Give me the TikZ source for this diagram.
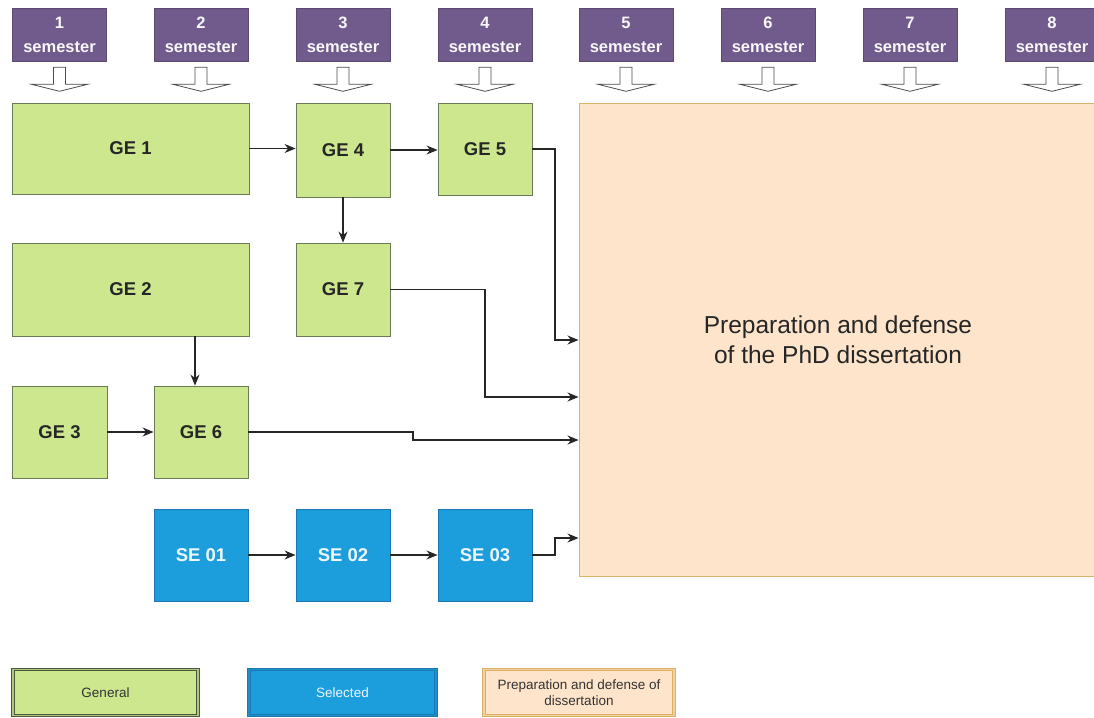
\documentclass[tikz,border=0pt]{standalone}
\usepackage{fontspec}
\setmainfont{Liberation Sans}
\usetikzlibrary{arrows.meta}
\definecolor{gefill}{HTML}{CDE78F}
\definecolor{gedraw}{HTML}{6A7C55}
\definecolor{sefill}{HTML}{1C9EDD}
\definecolor{sedraw}{HTML}{1B78B4}
\definecolor{semfill}{HTML}{705B8C}
\definecolor{prfill}{HTML}{FDE4CB}
\definecolor{prdraw}{HTML}{D9B56C}
\tikzset{
  gebox/.style={draw=gedraw, fill=gefill, line width=0.9pt, inner sep=0pt,
    font=\fontsize{18.5}{20}\selectfont\bfseries, text=black!85},
  sebox/.style={draw=sedraw, fill=sefill, line width=0.9pt, inner sep=0pt,
    minimum width=94pt, minimum height=92pt,
    font=\fontsize{18.5}{20}\selectfont\bfseries, text=white!92!sefill},
  sembox/.style={draw=semfill!80!black, fill=semfill, line width=0.6pt, inner sep=0pt,
    minimum width=94pt, minimum height=53pt, align=center,
    font=\fontsize{16.5}{24}\selectfont\bfseries, text=white!95!semfill},
  hollow/.style={draw=black!70, fill=white, line width=0.8pt},
  conn/.style={draw=black!85, line width=1.1pt, -{Stealth[length=11pt,width=9pt]}},
  legbox/.style={inner sep=0pt, minimum height=46pt, align=center, line width=1pt,
    double distance=1.2pt}
}
\begin{document}
\begin{tikzpicture}[x=1pt,y=-1pt]
\useasboundingbox (0,0) rectangle (1094,717);
% semester headers
\foreach \i/\x in {1/59.5,2/201,3/343,4/485,5/626,6/768,7/910,8/1052}{
  \node[sembox] (sem\i) at (\x,34.5) {\i\\semester};
  \draw[hollow] ([xshift=-6pt,yshift=-6pt]sem\i.south) -- ++(0,17) -- ++(-22,0)
     -- ([yshift=-30pt]sem\i.south) -- ++(28,-7) -- ++(-22,0) -- ++(0,-17) -- cycle;
}
% big box
\node[draw=prdraw, fill=prfill, line width=1pt, minimum width=521pt, minimum height=473pt,
  inner sep=0pt] (prep) at (839.5,339.5) {};
\node[align=center, font=\fontsize{24.5}{30}\selectfont, text=black!85] (preptext) at (838,340)
  {Preparation and defense\\of the PhD dissertation};
% general
\node[gebox, minimum width=237pt, minimum height=91pt] (ge1) at (130.5,148.5) {GE 1};
\node[gebox, minimum width=94pt, minimum height=94pt] (ge4) at (343,150) {GE 4};
\node[gebox, minimum width=94pt, minimum height=92pt] (ge5) at (485,149) {GE 5};
\node[gebox, minimum width=237pt, minimum height=93pt] (ge2) at (130.5,289.5) {GE 2};
\node[gebox, minimum width=94pt, minimum height=93pt] (ge7) at (343,289.5) {GE 7};
\node[gebox, minimum width=95pt, minimum height=92pt] (ge3) at (59.5,432) {GE 3};
\node[gebox, minimum width=94pt, minimum height=92pt] (ge6) at (201,432) {GE 6};
% selected
\node[sebox] (se1) at (201,555) {SE 01};
\node[sebox] (se2) at (343,555) {SE 02};
\node[sebox] (se3) at (485,555) {SE 03};
% helper coordinates
\coordinate (j5) at (555,340);
\coordinate (j7) at (485,397);
\coordinate (j6) at (413,440);
\coordinate (js) at (555,538);
\coordinate (g2x) at (195,0);
% connectors
\draw[conn] (ge1.east) -- (ge4.west |- ge1.east);
\draw[conn] (ge4.east) -- (ge5.west |- ge4.east);
\draw[conn] (ge4.south) -- (ge7.north);
\draw[conn] (ge5.east) -| (j5) -- (j5 -| prep.west);
\draw[conn] (ge7.east) -| (j7) -- (j7 -| prep.west);
\draw[conn] (ge6.east) -| (j6) -- (j6 -| prep.west);
\draw[conn] (ge2.south -| g2x) -- (ge6.north -| g2x);
\draw[conn] (ge3.east) -- (ge6.west);
\draw[conn] (se1.east) -- (se2.west);
\draw[conn] (se2.east) -- (se3.west);
\draw[conn] (se3.east) -| (js) -- (js -| prep.west);
% legend
\node[legbox, draw=gedraw!70!black, double=gefill!70!gedraw, fill=gefill, minimum width=185pt,
  font=\fontsize{13.5}{15}\selectfont, text=black!80] (lg) at (105.5,692.5) {General};
\node[legbox, draw=sedraw, double=sefill!60!sedraw, fill=sefill, minimum width=187pt,
  font=\fontsize{13.5}{15}\selectfont, text=white!92!sefill] (ls) at (342.5,692.5) {Selected};
\node[legbox, draw=prdraw!90!orange, double=prfill!60!prdraw, fill=prfill, minimum width=190pt,
  font=\fontsize{13.5}{16}\selectfont, text=black!80] (lp) at (579,692.5) {Preparation and defense of\\dissertation};
\end{tikzpicture}
\end{document}
